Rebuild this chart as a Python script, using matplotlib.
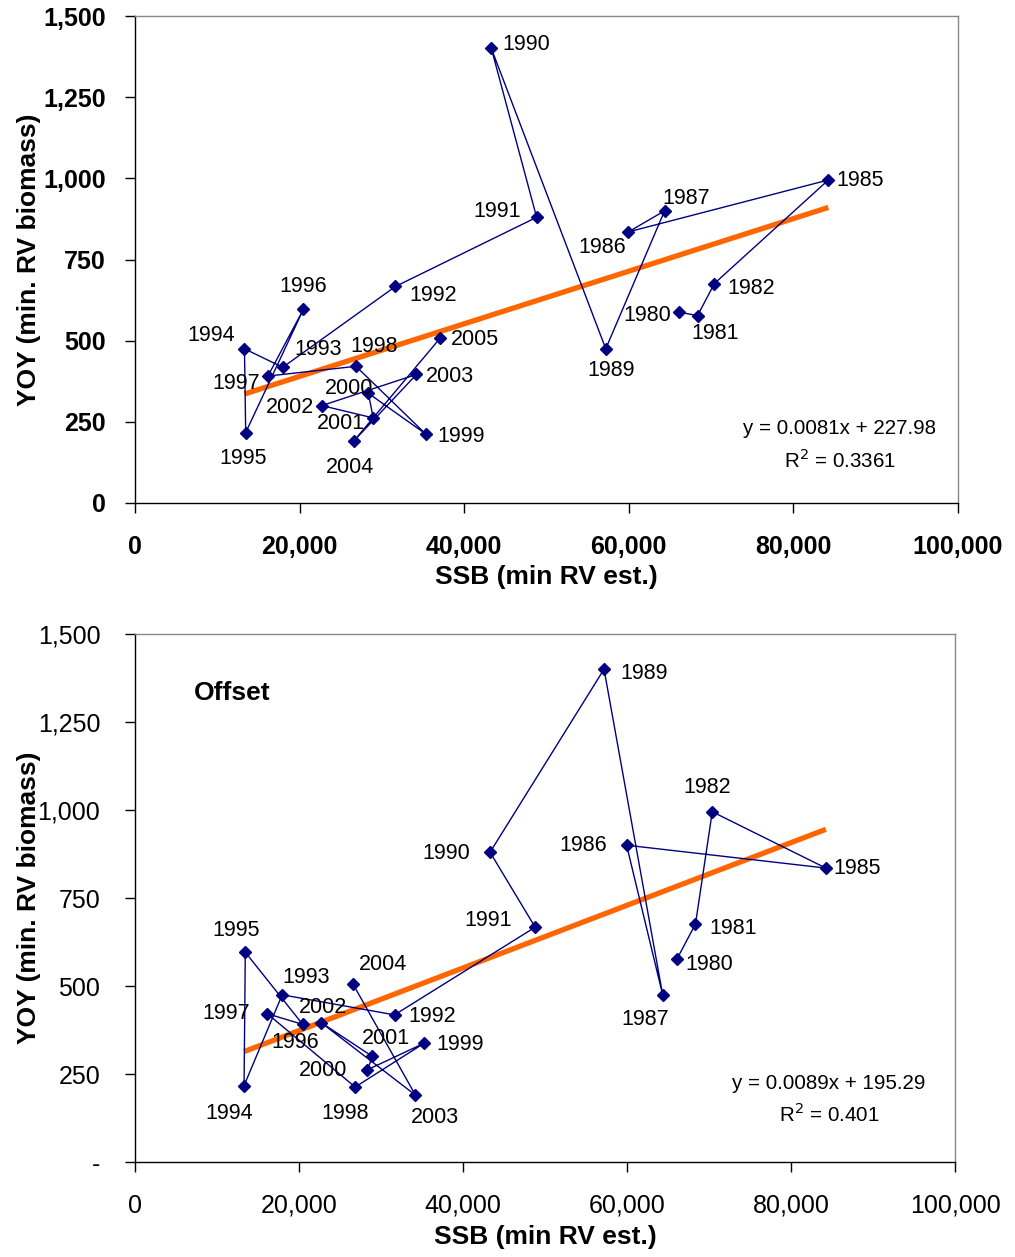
import matplotlib.pyplot as plt
import matplotlib.ticker as ticker

plt.rcParams['font.family'] = ['Liberation Sans', 'DejaVu Sans']

# survey years with both SSB and YOY estimates
years = [1980, 1981, 1982, 1985, 1986, 1987, 1989, 1990, 1991, 1992, 1993,
         1994, 1995, 1996, 1997, 1998, 1999, 2000, 2001, 2002, 2003, 2004, 2005]
ssb = [66100, 68350, 70400, 84250, 59950, 64350, 57200, 43300, 48800, 31650, 17950,
       13300, 13450, 20450, 16150, 26850, 35300, 28350, 28950, 22700, 34200, 26550, 37050]
yoy = [588, 577, 676, 995, 835, 900, 475, 1400, 880, 667, 418,
       475, 217, 596, 391, 421, 213, 338, 262, 300, 396, 190, 507]

# linear trendlines (slope, intercept, r2)
fit_same = (0.0081, 227.98, 0.3361)
fit_offset = (0.0089, 195.29, 0.401)

# year label offsets in pixels (right, down)
lab_same = {1980: (-32, 3), 1981: (18, 18), 1982: (37, 5), 1985: (32, 1), 1986: (-26, 16),
            1987: (22, -12), 1989: (5, 22), 1990: (35, -4), 1991: (-39, -6), 1992: (38, 9),
            1993: (35, -18), 1994: (-33, -13), 1995: (-3, 26), 1996: (0, -23), 1997: (-32, 7),
            1998: (18, -20), 1999: (36, 3), 2000: (-19, -5), 2001: (-32, 6), 2002: (-32, 2),
            2003: (33, 2), 2004: (-4, 26), 2005: (35, 1)}
lab_offset = {1980: (32, 6), 1981: (38, 4), 1982: (-5, -24), 1985: (31, 0), 1986: (-43, 0),
              1987: (-17, 25), 1989: (40, 4), 1990: (-44, 1), 1991: (-47, -7), 1992: (38, 2),
              1993: (24, -17), 1994: (-15, 28), 1995: (-9, -22), 1996: (-8, 18), 1997: (-41, 0),
              1998: (-10, 26), 1999: (36, 1), 2000: (-44, 1), 2001: (14, -18), 2002: (2, -15),
              2003: (19, 22), 2004: (30, -19)}

NAVY = '#000080'
ORANGE = '#FF6600'


def draw_panel(ax, xs, ys, yrs, labels, fit, bold_ticks, zero_label, tick_pad):
    ax.plot(xs, ys, color=NAVY, lw=1.0, marker='D', ms=6, mfc=NAVY, mec=NAVY, zorder=3)
    for x, y, yr in zip(xs, ys, yrs):
        dx, dy = labels[yr]
        ax.annotate(str(yr), (x, y), xytext=(dx, -dy), textcoords='offset pixels',
                    ha='center', va='center', fontsize=15.5, color='black')

    slope, icpt, r2 = fit
    x0, x1 = min(xs), max(xs)
    ax.plot([x0, x1], [slope * x0 + icpt, slope * x1 + icpt], color=ORANGE, lw=3.8,
            solid_capstyle='butt', zorder=2)

    ax.set_xlim(0, 100000)
    ax.set_ylim(0, 1500)
    ax.xaxis.set_major_locator(ticker.MultipleLocator(20000))
    ax.yaxis.set_major_locator(ticker.MultipleLocator(250))
    ax.xaxis.set_major_formatter(ticker.FuncFormatter(lambda v, p: f'{v:,.0f}'))
    ax.yaxis.set_major_formatter(ticker.FuncFormatter(
        lambda v, p: zero_label if v == 0 else f'{v:,.0f}'))

    weight = 'bold' if bold_ticks else 'normal'
    ax.tick_params(axis='both', direction='out', length=7, width=1, labelsize=18)
    ax.tick_params(axis='y', pad=tick_pad)
    ax.tick_params(axis='x', pad=16)
    for t in ax.get_xticklabels() + ax.get_yticklabels():
        t.set_fontweight(weight)

    for side in ('left', 'bottom'):
        ax.spines[side].set_color('black')
        ax.spines[side].set_linewidth(1.0)
    for side in ('top', 'right'):
        ax.spines[side].set_color('#888888')
        ax.spines[side].set_linewidth(1.0)

    ax.set_xlabel('SSB (min RV est.)', fontsize=19, fontweight='bold')
    ax.set_ylabel('YOY (min. RV biomass)', fontsize=19, fontweight='bold')


fig = plt.figure(figsize=(10.15, 12.57), dpi=100)

ax1 = fig.add_axes([135 / 1015, 1 - 503 / 1257, 823 / 1015, 487 / 1257])
draw_panel(ax1, ssb, yoy, years, lab_same, fit_same, True, '0', 14)
ax1.yaxis.set_label_coords(-0.114, 0.5)
ax1.xaxis.set_label_coords(0.5, -0.127)
ax1.text(0.856, 0.152, f'y = {fit_same[0]}x + {fit_same[1]}', transform=ax1.transAxes,
         ha='center', va='center', fontsize=14.8)
ax1.text(0.856, 0.088, f'R$^2$ = {fit_same[2]}', transform=ax1.transAxes,
         ha='center', va='center', fontsize=14.8)

# YOY of the following survey year against this year's SSB
ax2 = fig.add_axes([135 / 1015, 1 - 1162 / 1257, 820 / 1015, 528 / 1257])
draw_panel(ax2, ssb[:-1], yoy[1:], years[:-1], lab_offset, fit_offset, False, '-', 18)
ax2.yaxis.set_label_coords(-0.115, 0.5)
ax2.xaxis.set_label_coords(0.5, -0.119)
ax2.text(0.119, 0.888, 'Offset', transform=ax2.transAxes, ha='center', va='center',
         fontsize=19, fontweight='bold')
ax2.text(0.846, 0.149, f'y = {fit_offset[0]}x + {fit_offset[1]}', transform=ax2.transAxes,
         ha='center', va='center', fontsize=14.8)
ax2.text(0.846, 0.091, f'R$^2$ = {fit_offset[2]}', transform=ax2.transAxes,
         ha='center', va='center', fontsize=14.8)

fig.savefig('out.png', dpi=100)
